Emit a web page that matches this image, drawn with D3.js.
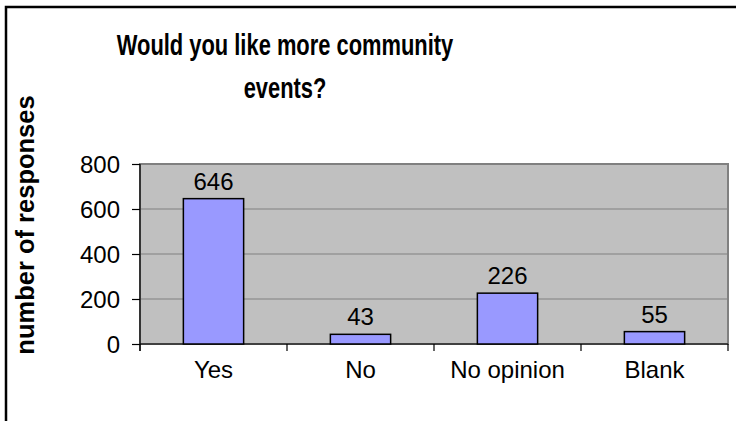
<!DOCTYPE html>
<html>
<head>
<meta charset="utf-8">
<script src="https://cdn.jsdelivr.net/npm/d3@7"></script>
<style>
  body { margin: 0; background: #fff; }
  text { font-family: "Liberation Sans", Arial, sans-serif; fill: #000; }
</style>
</head>
<body>
<svg id="chart" width="736" height="421"></svg>
<script>
var categories = ["Yes", "No", "No opinion", "Blank"];
var responses = [646, 43, 226, 55];
var yTicks = [0, 200, 400, 600, 800];
var titleLines = ["Would you like more community", "events?"];

var svg = d3.select("#chart");
var plot = { left: 140, right: 728, top: 164, bottom: 344 };

// outer frame (runs off the right and bottom of the picture)
svg.append("rect")
    .attr("x", 6).attr("y", 7)
    .attr("width", 760).attr("height", 440)
    .attr("fill", "#fff")
    .attr("stroke", "#000")
    .attr("stroke-width", 2.5);

var x = d3.scaleBand()
    .domain(categories)
    .range([plot.left, plot.right])
    .padding(0);

var y = d3.scaleLinear()
    .domain([0, 800])
    .range([plot.bottom, plot.top]);

var barW = x.bandwidth() * 0.41;

// title - the original is set in a narrow bold face, so squeeze it
svg.selectAll(".title")
    .data(titleLines)
    .enter()
    .append("text")
    .attr("class", "title")
    .attr("transform", function (d, i) {
        return "translate(285," + (55 + i * 43) + ") scale(0.73,1)";
    })
    .attr("text-anchor", "middle")
    .style("font-size", "30px")
    .style("font-weight", "bold")
    .text(function (d) { return d; });

// y axis title
svg.append("text")
    .attr("transform", "translate(34,225) rotate(-90)")
    .attr("text-anchor", "middle")
    .style("font-size", "25.5px")
    .style("font-weight", "bold")
    .text("number of responses");

// plot area
svg.append("rect")
    .attr("x", plot.left).attr("y", plot.top)
    .attr("width", plot.right - plot.left)
    .attr("height", plot.bottom - plot.top)
    .attr("fill", "#c0c0c0")
    .attr("stroke", "#808080")
    .attr("stroke-width", 2);

// gridlines
svg.selectAll(".grid")
    .data(yTicks.filter(function (d) { return d > 0; }))
    .enter()
    .append("line")
    .attr("x1", plot.left).attr("x2", plot.right)
    .attr("y1", function (d) { return y(d); })
    .attr("y2", function (d) { return y(d); })
    .attr("stroke", "#808080")
    .attr("stroke-width", 1.2);

// y axis
var yAxis = d3.axisLeft(y)
    .tickValues(yTicks)
    .tickSize(8)
    .tickPadding(12);
var gy = svg.append("g")
    .attr("transform", "translate(" + plot.left + ",0)")
    .call(yAxis);
gy.select(".domain").remove();
gy.selectAll(".tick line").attr("stroke", "#000").attr("stroke-width", 1.2);
gy.selectAll(".tick text")
    .style("font-size", "24px")
    .attr("font-family", null)
    .attr("dy", "0.36em");
gy.append("line")
    .attr("x1", 0).attr("x2", 0)
    .attr("y1", plot.top).attr("y2", plot.bottom + 7)
    .attr("stroke", "#000").attr("stroke-width", 1.2);

// x axis
var gx = svg.append("g")
    .attr("transform", "translate(0," + plot.bottom + ")");
gx.append("line")
    .attr("x1", plot.left).attr("x2", plot.right)
    .attr("stroke", "#000").attr("stroke-width", 1.2);
gx.selectAll(".xtick")
    .data(categories.concat(["end"]))
    .enter()
    .append("line")
    .attr("x1", function (d, i) { return plot.left + i * x.step(); })
    .attr("x2", function (d, i) { return plot.left + i * x.step(); })
    .attr("y1", 0).attr("y2", 7)
    .attr("stroke", "#000").attr("stroke-width", 1.2);
gx.selectAll(".xlabel")
    .data(categories)
    .enter()
    .append("text")
    .attr("x", function (d) { return x(d) + x.bandwidth() / 2; })
    .attr("y", 34)
    .attr("text-anchor", "middle")
    .style("font-size", "24px")
    .text(function (d) { return d; });

// bars
var bars = svg.selectAll(".bar")
    .data(categories)
    .enter()
    .append("g");

bars.append("rect")
    .attr("x", function (d) { return x(d) + (x.bandwidth() - barW) / 2; })
    .attr("y", function (d, i) { return y(responses[i]); })
    .attr("width", barW)
    .attr("height", function (d, i) { return plot.bottom - y(responses[i]); })
    .attr("fill", "#9999ff")
    .attr("stroke", "#000")
    .attr("stroke-width", 1.5);

bars.append("text")
    .attr("x", function (d) { return x(d) + x.bandwidth() / 2; })
    .attr("y", function (d, i) { return y(responses[i]) - 9; })
    .attr("text-anchor", "middle")
    .style("font-size", "24px")
    .text(function (d, i) { return responses[i]; });
</script>
</body>
</html>
